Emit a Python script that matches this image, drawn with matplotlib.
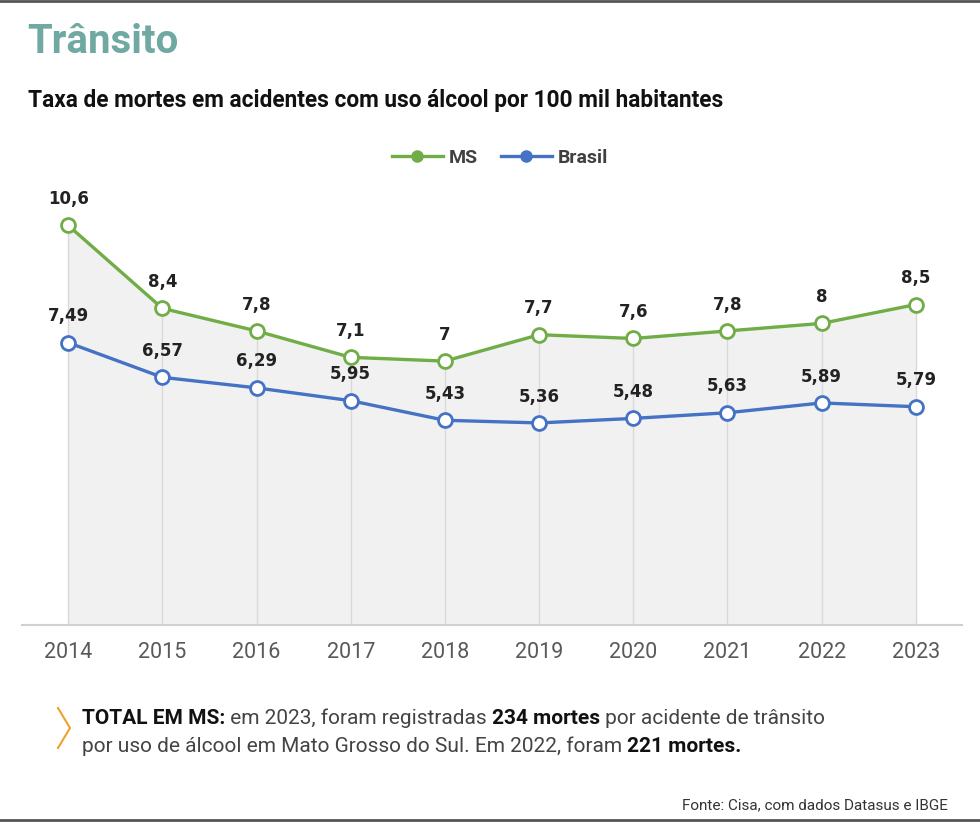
import matplotlib.pyplot as plt
from matplotlib import font_manager
from matplotlib.lines import Line2D

anos = ['2014', '2015', '2016', '2017', '2018', '2019', '2020', '2021', '2022', '2023']
ms = [10.6, 8.4, 7.8, 7.1, 7.0, 7.7, 7.6, 7.8, 8.0, 8.5]
brasil = [7.49, 6.57, 6.29, 5.95, 5.43, 5.36, 5.48, 5.63, 5.89, 5.79]
ms_rot = ['10,6', '8,4', '7,8', '7,1', '7', '7,7', '7,6', '7,8', '8', '8,5']
br_rot = ['7,49', '6,57', '6,29', '5,95', '5,43', '5,36', '5,48', '5,63', '5,89', '5,79']

instaladas = {f.name for f in font_manager.fontManager.ttflist}
narrow = 'Liberation Sans Narrow' if 'Liberation Sans Narrow' in instaladas else 'Roboto'

VERDE = '#70ad47'
AZUL = '#4472c4'

fig = plt.figure(figsize=(9.8, 8.22), dpi=100)
W, H = 980, 822

def fx(px):
    return px / W

def fy(py):
    return 1 - py / H

# eixo: x=22..962 px, base em 625 px, ~37.7 px por unidade
top_px = 150
ax = fig.add_axes([fx(22), fy(625), fx(962) - fx(22), fy(top_px) - fy(625)])
ax.set_xlim(-0.49, 9.49)
ax.set_ylim(0, (625 - top_px) / 37.7)
x = list(range(len(anos)))

ax.fill_between(x, ms, 0, color='#f1f1f1', zorder=1)
ax.vlines(x, 0, ms, color='#d9d9d9', lw=1, zorder=2)
ax.plot(x, ms, color=VERDE, lw=2.4, marker='o', ms=10, mfc='white', mec=VERDE, mew=2, zorder=4)
ax.plot(x, brasil, color=AZUL, lw=2.4, marker='o', ms=10, mfc='white', mec=AZUL, mew=2, zorder=4)

for i in x:
    ax.annotate(ms_rot[i], (i, ms[i]), xytext=(0, 19), textcoords='offset points',
                ha='center', va='center', fontsize=12, fontweight='bold', color='#222222')
    ax.annotate(br_rot[i], (i, brasil[i]), xytext=(0, 19), textcoords='offset points',
                ha='center', va='center', fontsize=12, fontweight='bold', color='#222222')

for s in ['top', 'right', 'left']:
    ax.spines[s].set_visible(False)
ax.spines['bottom'].set_color('#d0d0d0')
ax.spines['bottom'].set_linewidth(1.5)
ax.set_yticks([])
ax.set_xticks(x)
ax.set_xticklabels(anos, fontsize=15.5, color='#595959', family=narrow)
ax.tick_params(axis='x', length=0, pad=12)

# legenda
h1 = Line2D([], [], color=VERDE, lw=2.4, marker='o', ms=8, mfc=VERDE, mec=VERDE)
h2 = Line2D([], [], color=AZUL, lw=2.4, marker='o', ms=8, mfc=AZUL, mec=AZUL)
fig.legend([h1, h2], ['MS', 'Brasil'], loc='center', bbox_to_anchor=(fx(500), fy(158)),
           ncol=2, frameon=False, handlelength=2.6, columnspacing=1.2, handletextpad=0.3,
           prop={'family': narrow, 'size': 14, 'weight': 'bold'}, labelcolor='#404040')

# titulos
fig.text(fx(27), fy(42), 'Trânsito', fontsize=29, fontweight='bold', color='#6fa9a1',
         family=narrow, va='center')
fig.text(fx(28), fy(100), 'Taxa de mortes em acidentes com uso álcool por 100 mil habitantes',
         fontsize=16.3, fontweight='bold', color='#111111', family=narrow, va='center')

# nota com trechos em negrito, escrita pedaço a pedaço
fig.canvas.draw()
r = fig.canvas.get_renderer()

def escrever(partes, px, py):
    xcur = fx(px)
    for txt, peso in partes:
        t = fig.text(xcur, fy(py), txt, fontsize=15, family=narrow, fontweight=peso,
                     color='#111111' if peso == 'bold' else '#444444', va='baseline')
        xcur += t.get_window_extent(renderer=r).width / fig.bbox.width

escrever([('TOTAL EM MS:', 'bold'), (' em 2023, foram registradas ', 'normal'),
          ('234 mortes', 'bold'), (' por acidente de trânsito', 'normal')], 82, 724)
escrever([('por uso de álcool em Mato Grosso do Sul. Em 2022, foram ', 'normal'),
          ('221 mortes.', 'bold')], 82, 752)

fig.add_artist(Line2D([fx(58), fx(70), fx(58)], [fy(708), fy(728), fy(748)],
                      color='#f0a030', lw=1.5))

fig.text(fx(948), fy(805), 'Fonte: Cisa, com dados Datasus e IBGE', fontsize=11,
         family=narrow, color='#333333', ha='right', va='center')

fig.add_artist(Line2D([0, 1], [fy(1), fy(1)], color='#555555', lw=2))
fig.add_artist(Line2D([0, 1], [fy(820), fy(820)], color='#555555', lw=2))

fig.savefig('out.png', dpi=100, facecolor='white')
